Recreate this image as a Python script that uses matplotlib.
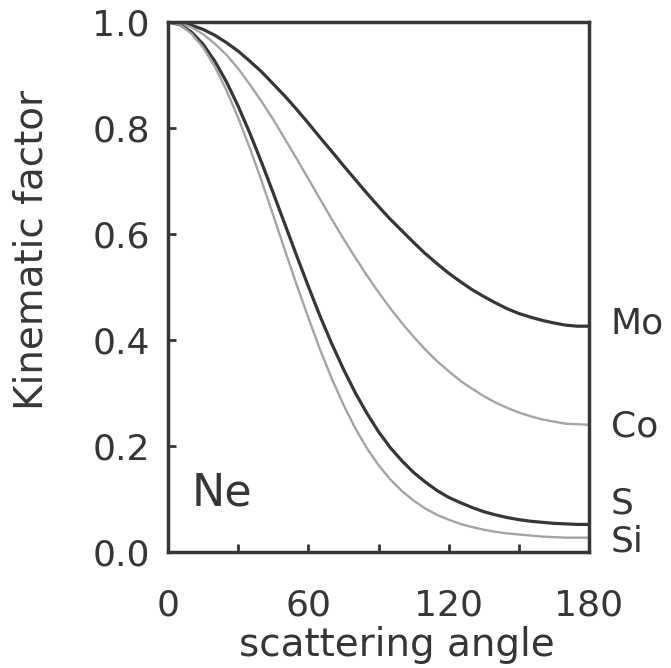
import matplotlib
matplotlib.use("Agg")
import matplotlib.pyplot as plt

# scattering angle (deg) and kinematic factor (projectile Ne)
angle = [0, 5, 10, 15, 20, 25, 30, 35, 40, 45, 50, 55, 60, 65, 70, 75, 80, 85, 90,
         95, 100, 105, 110, 115, 120, 125, 130, 135, 140, 145, 150, 155, 160, 165, 170, 175, 180]
k_mo = [1.000, 0.998, 0.994, 0.986, 0.975, 0.961, 0.945, 0.926, 0.906, 0.883, 0.860, 0.835,
        0.809, 0.782, 0.756, 0.729, 0.703, 0.677, 0.652, 0.628, 0.606, 0.584, 0.563, 0.544,
        0.526, 0.510, 0.495, 0.482, 0.470, 0.459, 0.450, 0.443, 0.437, 0.432, 0.428, 0.426, 0.426]
k_co = [1.000, 0.997, 0.990, 0.977, 0.959, 0.938, 0.912, 0.882, 0.850, 0.816, 0.779, 0.742,
        0.704, 0.666, 0.628, 0.591, 0.556, 0.522, 0.490, 0.460, 0.432, 0.406, 0.382, 0.360,
        0.341, 0.323, 0.308, 0.294, 0.282, 0.272, 0.263, 0.256, 0.250, 0.246, 0.242, 0.241, 0.240]
k_s = [1.000, 0.995, 0.981, 0.958, 0.926, 0.887, 0.841, 0.790, 0.735, 0.677, 0.618, 0.559,
       0.501, 0.445, 0.393, 0.345, 0.301, 0.262, 0.227, 0.197, 0.172, 0.150, 0.132, 0.116,
       0.103, 0.093, 0.084, 0.076, 0.070, 0.065, 0.061, 0.058, 0.056, 0.054, 0.053, 0.052, 0.052]
k_si = [1.000, 0.995, 0.978, 0.952, 0.916, 0.871, 0.819, 0.762, 0.700, 0.635, 0.569, 0.504,
        0.442, 0.382, 0.327, 0.278, 0.234, 0.196, 0.164, 0.137, 0.115, 0.097, 0.082, 0.070,
        0.061, 0.053, 0.047, 0.042, 0.038, 0.035, 0.033, 0.031, 0.029, 0.028, 0.027, 0.027, 0.027]

targets = ["Mo", "Co", "S", "Si"]
curves = [k_mo, k_co, k_s, k_si]
colors = ["#363636", "#a4a4a4", "#363636", "#a4a4a4"]
widths = [2.3, 1.7, 2.3, 1.7]
label_y = [0.432, 0.236, 0.092, 0.020]

dark = "#363636"
fig = plt.figure(figsize=(6.71, 6.68), dpi=100)
ax = fig.add_axes([0.2504, 0.1737, 0.6274, 0.7934])

for name, k, c, w in zip(targets, curves, colors, widths):
    ax.plot(angle, k, color=c, lw=w)

for name, y in zip(targets, label_y):
    ax.text(1.052, y, name, transform=ax.get_yaxis_transform(), fontsize=26,
            color=dark, va="center", ha="left")

ax.text(10.3, 0.111, "Ne", fontsize=32, color=dark, va="center", ha="left")

ax.set_xlim(0, 180)
ax.set_ylim(0, 1.0)
ax.set_xticks([0, 60, 120, 180])
ax.set_xticks([30, 90, 150], minor=True)
ax.set_yticks([0.0, 0.2, 0.4, 0.6, 0.8, 1.0])
ax.set_yticklabels(["0.0", "0.2", "0.4", "0.6", "0.8", "1.0"])
ax.tick_params(axis="both", which="both", direction="in", length=6, width=2,
               color=dark, labelsize=26, labelcolor=dark)
ax.tick_params(axis="x", pad=26)
ax.tick_params(axis="y", pad=13)

for s in ax.spines.values():
    s.set_linewidth(2.5)
    s.set_color(dark)

ax.set_xlabel("scattering angle", fontsize=28, color=dark)
ax.set_ylabel("Kinematic factor", fontsize=28, color=dark)
ax.xaxis.set_label_coords(0.544, -0.14)
ax.yaxis.set_label_coords(-0.28, 0.57)

fig.savefig("out.png", dpi=100)
